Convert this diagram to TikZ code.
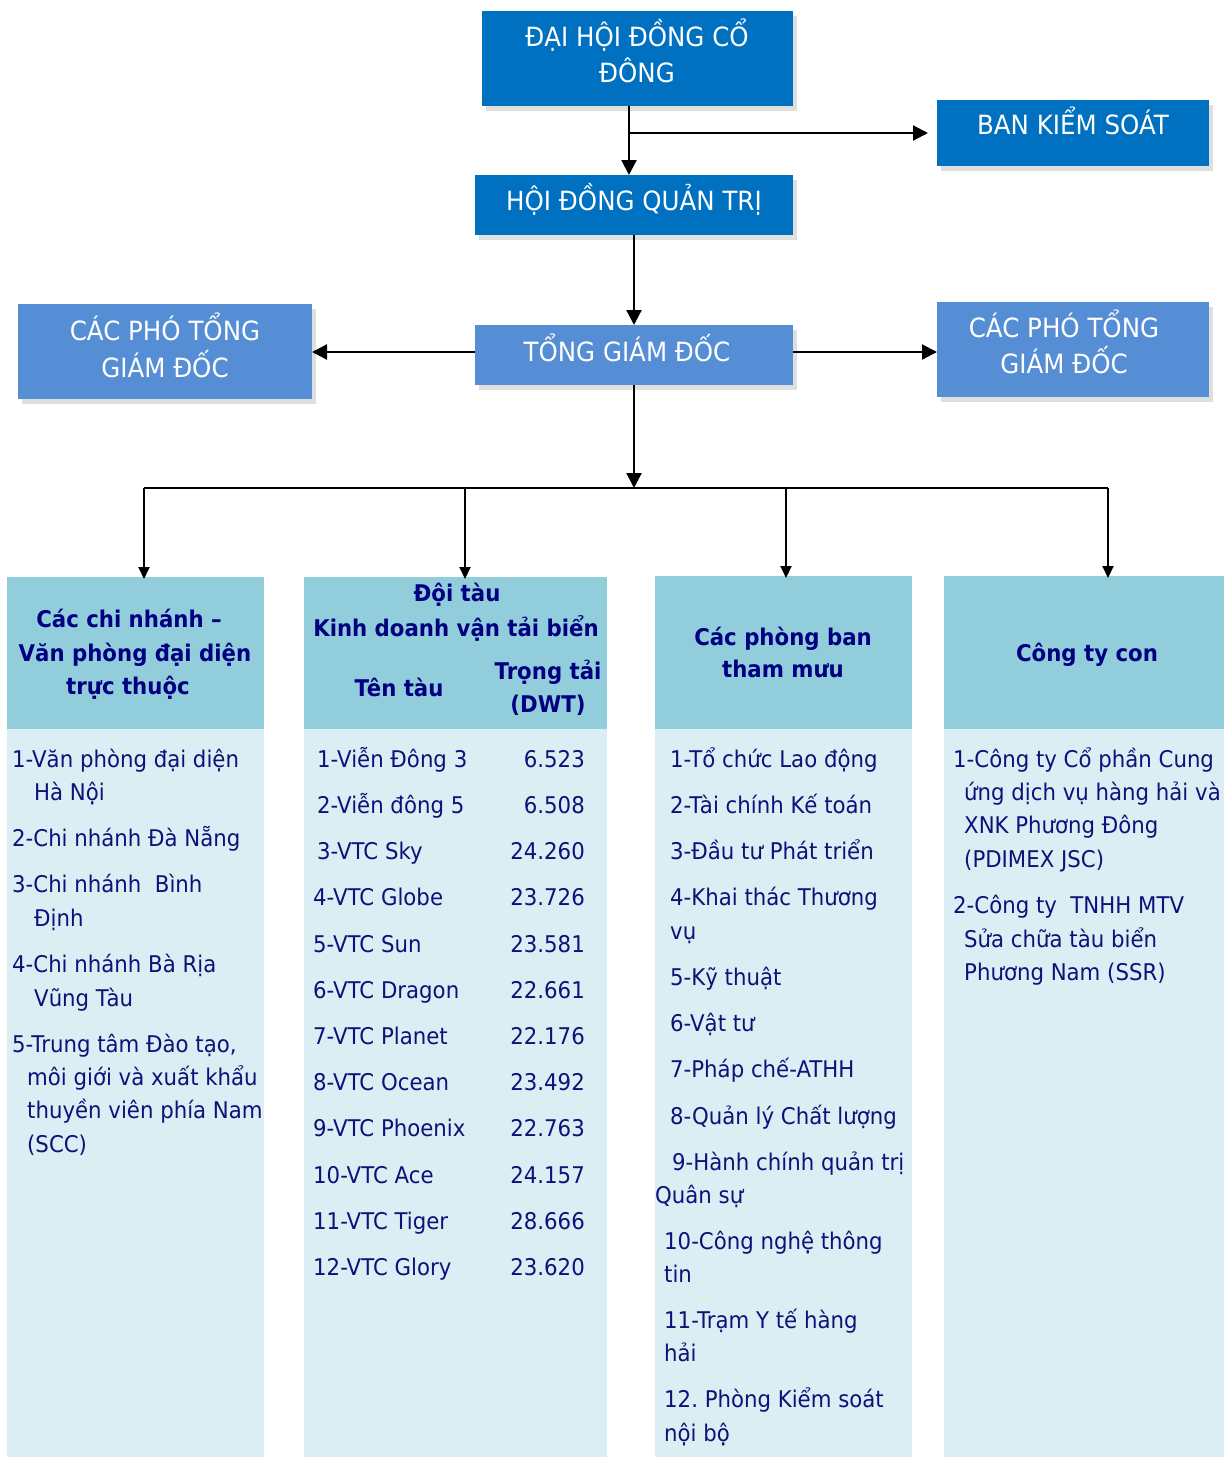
\documentclass[tikz,border=0pt]{standalone}
\usepackage{fontspec}
\setmainfont{DejaVu Sans}[FakeStretch=0.925]
\frenchspacing
\usetikzlibrary{arrows.meta,shadows}
\definecolor{dblue}{HTML}{0070C0}
\definecolor{mblue}{HTML}{558ED5}
\definecolor{hdr}{HTML}{92CDDC}
\definecolor{bdy}{HTML}{DAEEF3}
\definecolor{navy}{HTML}{000080}
\definecolor{txt}{HTML}{10107A}
\tikzset{
  box/.style={rectangle, inner sep=0pt, outer sep=0pt, draw=none},
  topbox/.style={box, fill=dblue, drop shadow={opacity=0.25, shadow xshift=4pt, shadow yshift=-5pt}},
  midbox/.style={box, fill=mblue, drop shadow={opacity=0.25, shadow xshift=4pt, shadow yshift=-5pt}},
  hdrbox/.style={box, fill=hdr},
  bdybox/.style={box, fill=bdy},
  wtext/.style={text=white, font=\fontsize{26.5}{30}\selectfont, inner sep=0pt, anchor=base},
  htext/.style={text=navy, font=\fontsize{23}{28}\selectfont\bfseries, inner sep=0pt, anchor=base},
  btext/.style={text=txt, font=\fontsize{23}{28}\selectfont, inner sep=0pt, anchor=base west},
  ntext/.style={text=txt, font=\fontsize{23}{28}\selectfont, inner sep=0pt, anchor=base east},
  arr/.style={line width=2.2pt, -{Triangle[width=15pt,length=15pt]}},
  sarr/.style={line width=2pt, -{Triangle[width=11pt,length=12pt]}},
  link/.style={line width=2pt},
}
\begin{document}
\begin{tikzpicture}[x=1pt,y=-1pt]
\useasboundingbox (0,0) rectangle (1224,1457);
\fill[white] (0,0) rectangle (1224,1457);

% top boxes
\node[topbox, minimum width=311pt, minimum height=95pt] (dhd) at (637.5,58.5) {};
\node[topbox, minimum width=272pt, minimum height=66pt] (bks) at (1073,133) {};
\node[topbox, minimum width=318pt, minimum height=60pt] (hdqt) at (634,205) {};
\node[midbox, minimum width=318pt, minimum height=60pt] (tgd) at (634,355) {};
\node[midbox, minimum width=294pt, minimum height=95pt] (pl) at (165,351.5) {};
\node[midbox, minimum width=272pt, minimum height=95pt] (pr) at (1073,349.5) {};

\node[wtext] (dhdt1) at (637,46) {ĐẠI HỘI ĐỒNG CỔ};
\node[wtext] (dhdt2) at (637,82) {ĐÔNG};
\node[wtext] (bkst) at (1073,134) {BAN KIỂM SOÁT};
\node[wtext] (hdqtt) at (634,210) {HỘI ĐỒNG QUẢN TRỊ};
\node[wtext] (tgdt) at (627,361) {TỔNG GIÁM ĐỐC};
\node[wtext] (plt1) at (165,340) {CÁC PHÓ TỔNG};
\node[wtext] (plt2) at (165,377) {GIÁM ĐỐC};
\node[wtext] (prt1) at (1064,337) {CÁC PHÓ TỔNG};
\node[wtext] (prt2) at (1064,373) {GIÁM ĐỐC};

% connectors top
\coordinate (j1) at (629,133);
\draw[arr] (dhd.south -| j1) -- (hdqt.north -| j1);
\draw[arr, shorten >=9pt] (j1) -- (bks.west |- j1);
\draw[arr] (hdqt.south) -- (tgd.north);
\draw[arr] ([yshift=3pt]tgd.west) -- ([yshift=3pt]tgd.west -| pl.east);
\draw[arr] ([yshift=3pt]tgd.east) -- ([yshift=3pt]tgd.east -| pr.west);

% columns
\node[hdrbox, minimum width=257pt, minimum height=152pt] (h1) at (135.5,653) {};
\node[bdybox, minimum width=257pt, minimum height=728pt] (b1) at (135.5,1093) {};
\node[hdrbox, minimum width=303pt, minimum height=152pt] (h2) at (455.5,653) {};
\node[bdybox, minimum width=303pt, minimum height=728pt] (b2) at (455.5,1093) {};
\node[hdrbox, minimum width=257pt, minimum height=153pt] (h3) at (783.5,652.5) {};
\node[bdybox, minimum width=257pt, minimum height=728pt] (b3) at (783.5,1093) {};
\node[hdrbox, minimum width=280pt, minimum height=153pt] (h4) at (1084,652.5) {};
\node[bdybox, minimum width=280pt, minimum height=728pt] (b4) at (1084,1093) {};

% bus
\coordinate (bus) at (634,488);
\coordinate (d1) at (144,488);
\coordinate (d2) at (465,488);
\coordinate (d3) at (786,488);
\coordinate (d4) at (1108,488);
\draw[arr] (tgd.south) -- (bus);
\draw[link] (d1) -- (d4);
\draw[sarr] (d1) -- ([yshift=-2pt]h1.north -| d1);
\draw[sarr] (d2) -- ([yshift=-2pt]h2.north -| d2);
\draw[sarr] (d3) -- ([yshift=-2pt]h3.north -| d3);
\draw[sarr] (d4) -- ([yshift=-2pt]h4.north -| d4);

% header texts
\node[htext] (h1t1) at (129,627) {Các chi nhánh –};
\node[htext] (h1t2) at (135,661) {Văn phòng đại diện};
\node[htext] (h1t3) at (128,694) {trực thuộc};
\node[htext] (h2t1) at (457,601) {Đội tàu};
\node[htext] (h2t2) at (456,636) {Kinh doanh vận tải biển};
\node[htext] (h2t3) at (399,696) {Tên tàu};
\node[htext] (h2t4) at (548,679) {Trọng tải};
\node[htext] (h2t5) at (548,712) {(DWT)};
\node[htext] (h3t1) at (783,645) {Các phòng ban};
\node[htext] (h3t2) at (783,677) {tham mưu};
\node[htext] (h4t1) at (1087,661) {Công ty con};

% column 1 body
\foreach \x/\y/\t [count=\i] in {
  12/767/{1-Văn phòng đại diện},
  34/800/{Hà Nội},
  12/846/{2-Chi nhánh Đà Nẵng},
  12/892/{3-Chi nhánh~ Bình},
  34/926/{Định},
  12/972/{4-Chi nhánh Bà Rịa},
  34/1006/{Vũng Tàu},
  12/1052/{5-Trung tâm Đào tạo,},
  27/1085/{môi giới và xuất khẩu},
  27/1118/{thuyền viên phía Nam},
  27/1152/{(SCC)}}
  \node[btext] (ca\i) at (\x,\y) {\t};

% column 2 body
\foreach \x/\y/\t/\n [count=\i] in {
  317/767/{1-Viễn Đông 3}/6.523,
  317/813/{2-Viễn đông 5}/6.508,
  317/859/{3-VTC Sky}/24.260,
  313/905/{4-VTC Globe}/23.726,
  313/952/{5-VTC Sun}/23.581,
  313/998/{6-VTC Dragon}/22.661,
  313/1044/{7-VTC Planet}/22.176,
  313/1090/{8-VTC Ocean}/23.492,
  313/1136/{9-VTC Phoenix}/22.763,
  313/1183/{10-VTC Ace}/24.157,
  313/1229/{11-VTC Tiger}/28.666,
  313/1275/{12-VTC Glory}/23.620}
  {\node[btext] (cb\i) at (\x,\y) {\t};
   \node[ntext] (cn\i) at (585,\y) {\n};}

% column 3 body
\foreach \x/\y/\t [count=\i] in {
  670/767/{1-Tổ chức Lao động},
  670/813/{2-Tài chính Kế toán},
  670/859/{3-Đầu tư Phát triển},
  670/905/{4-Khai thác Thương},
  670/939/{vụ},
  670/985/{5-Kỹ thuật},
  670/1031/{6-Vật tư},
  670/1077/{7-Pháp chế-ATHH},
  670/1124/{8-Quản lý Chất lượng},
  672/1170/{9-Hành chính quản trị},
  655/1203/{Quân sự},
  664/1249/{10-Công nghệ thông},
  664/1282/{tin},
  664/1328/{11-Trạm Y tế hàng},
  664/1361/{hải},
  664/1407/{12.\ Phòng Kiểm soát},
  664/1441/{nội bộ}}
  \node[btext] (cc\i) at (\x,\y) {\t};

% column 4 body
\foreach \x/\y/\t [count=\i] in {
  953/767/{1-Công ty Cổ phần Cung},
  964/800/{ứng dịch vụ hàng hải và},
  964/833/{XNK Phương Đông},
  964/867/{(PDIMEX JSC)},
  953/913/{2-Công ty~ TNHH MTV},
  964/947/{Sửa chữa tàu biển},
  964/980/{Phương Nam (SSR)}}
  \node[btext] (cd\i) at (\x,\y) {\t};
\end{tikzpicture}
\end{document}
